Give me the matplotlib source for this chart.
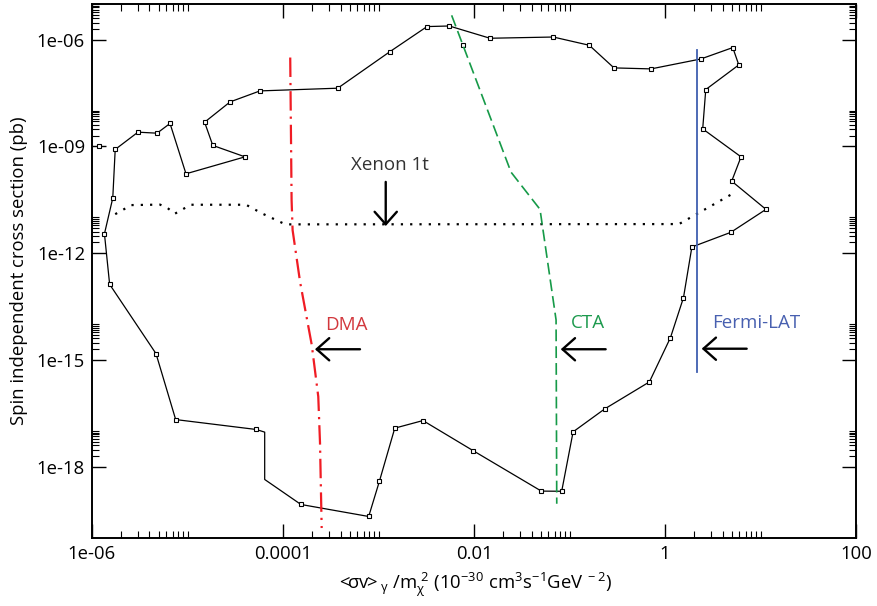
import numpy as np
import matplotlib
matplotlib.use('Agg')
import matplotlib.pyplot as plt
from matplotlib.ticker import FixedLocator, NullFormatter

plt.rcParams['font.family'] = ['Open Sans', 'DejaVu Sans']
plt.rcParams['mathtext.fontset'] = 'custom'
plt.rcParams['mathtext.rm'] = 'Open Sans'
plt.rcParams['mathtext.it'] = 'Open Sans:italic'
plt.rcParams['lines.scale_dashes'] = False

# closed contour (black), marker flag per vertex
contour_x = [1.75e-6, 3.03e-6, 4.80e-6, 6.56e-6, 9.64e-6, 4.00e-5, 1.84e-5, 1.51e-5,
             2.79e-5, 5.74e-5, 3.74e-4, 1.32e-3, 3.22e-3, 5.51e-3, 1.47e-2, 6.76e-2,
             0.161, 0.292, 0.713, 2.37, 5.12, 5.92, 2.67, 2.48,
             6.25, 4.99, 11.4, 4.88, 1.91, 1.56, 1.14, 0.686,
             0.234, 0.109, 8.28e-2, 5.07e-2, 9.84e-3, 2.92e-3, 1.48e-3, 1.02e-3,
             7.89e-4, 1.54e-4, 6.43e-5, 6.43e-5, 5.25e-5, 7.52e-6, 4.68e-6, 1.53e-6,
             1.35e-6, 1.65e-6, 1.75e-6]
contour_y = [8.17e-10, 2.50e-9, 2.34e-9, 4.39e-9, 1.69e-10, 5.06e-10, 1.06e-9, 4.76e-9,
             1.77e-8, 3.61e-8, 4.30e-8, 4.60e-7, 2.32e-6, 2.41e-6, 1.09e-6, 1.18e-6,
             6.92e-7, 1.60e-7, 1.50e-7, 2.85e-7, 5.96e-7, 1.94e-7, 3.94e-8, 3.09e-9,
             5.06e-10, 1.05e-10, 1.69e-11, 3.82e-12, 1.48e-12, 5.57e-14, 4.20e-15, 2.39e-16,
             4.18e-17, 9.44e-18, 2.02e-19, 2.04e-19, 2.77e-18, 1.96e-17, 1.20e-17, 3.80e-19,
             3.95e-20, 8.59e-20, 4.33e-19, 9.27e-18, 1.10e-17, 2.09e-17, 1.49e-15, 1.32e-13,
             3.48e-12, 3.51e-11, 8.17e-10]
has_marker = [1] * 42 + [0, 0] + [1] * 6 + [0]

extra_x = [1.17e-6, 7.59e-3]
extra_y = [1.01e-9, 7.24e-7]

xenon_x = [1.75e-6, 2.58e-6, 5.15e-6, 6.14e-6, 7.35e-6, 1.08e-5, 4.10e-5, 6.03e-5, 1.06e-4, 1.40, 5.53]
xenon_y = [1.24e-11, 2.23e-11, 2.30e-11, 1.87e-11, 1.27e-11, 2.28e-11, 2.28e-11, 1.30e-11, 6.40e-12, 6.53e-12, 5.27e-11]

dma_x = [1.19e-4, 1.23e-4, 1.26e-4, 1.51e-4, 2.00e-4, 2.34e-4, 2.44e-4, 2.54e-4]
dma_y = [3.13e-7, 3.08e-11, 4.43e-12, 1.53e-13, 2.62e-15, 9.25e-17, 4.65e-18, 1.87e-20]

cta_x = [5.83e-3, 2.44e-2, 4.91e-2, 7.23e-2, 7.35e-2]
cta_y = [4.81e-6, 1.88e-10, 1.69e-11, 1.32e-14, 9.00e-20]

fermi_x = [2.15, 2.15]
fermi_y = [5.24e-7, 4.48e-16]

# labels: text, text position, arrow tail, arrow tip, colour
labels = [
    ('Xenon 1t', (1.32e-3, 2.96e-10), (1.19e-3, 1.00e-10), (1.19e-3, 5.74e-12), '#333333'),
    ('DMA', (4.65e-4, 9.5e-15), (6.40e-4, 1.98e-15), (2.16e-4, 1.98e-15), '#d2373c'),
    ('CTA', (0.157, 1.06e-14), (0.239, 1.98e-15), (8.09e-2, 1.98e-15), '#1d9a4e'),
    ('Fermi-LAT', (9.12, 1.1e-14), (7.16, 2.05e-15), (2.42, 2.05e-15), '#4860b0'),
]

x_major = [1e-6, 1e-4, 1e-2, 1, 100]
x_major_labels = ['1e-06', '0.0001', '0.01', '1', '100']
y_major = [1e-6, 1e-9, 1e-12, 1e-15, 1e-18]
y_major_labels = ['1e-06', '1e-09', '1e-12', '1e-15', '1e-18']

fig = plt.figure(figsize=(8.77, 6.06), dpi=100)
ax = fig.add_axes([0.1049, 0.1127, 0.8712, 0.8807])

cx = np.array(contour_x)
cy = np.array(contour_y)
m = np.array(has_marker, dtype=bool)
ax.plot(cx, cy, color='black', lw=0.9)
ax.plot(cx[m], cy[m], ls='none', marker='s', ms=3.4, mfc='white', mec='black', mew=0.8)
ax.plot(extra_x, extra_y, ls='none', marker='s', ms=3.4, mfc='white', mec='black', mew=0.8)

ax.plot(xenon_x, xenon_y, color='black', lw=1.6, dashes=(1.6, 5.1))
ax.plot(dma_x, dma_y, color='#f01c24', lw=1.6, dashes=(14, 4.3, 1.6, 4.3))
ax.plot(cta_x, cta_y, color='#169a48', lw=1.2, dashes=(8.5, 3.6))
ax.plot(fermi_x, fermi_y, color='#3f5fb0', lw=1.3)

for text, tpos, tail, tip, col in labels:
    ax.text(tpos[0], tpos[1], text, color=col, fontsize=13.5, ha='center', va='center')
    ax.annotate('', xy=tip, xytext=tail,
                arrowprops=dict(arrowstyle='->,head_length=0.45,head_width=0.4',
                                lw=1.7, color='black', shrinkA=0, shrinkB=0,
                                mutation_scale=20))

ax.set_xscale('log')
ax.set_yscale('log')
ax.set_xlim(1e-6, 100)
ax.set_ylim(1e-20, 1e-5)

ax.xaxis.set_major_locator(FixedLocator(x_major))
ax.set_xticklabels(x_major_labels)
ax.yaxis.set_major_locator(FixedLocator(y_major))
ax.set_yticklabels(y_major_labels)
x_minor = [k * b for b in [1e-6, 1e-4, 1e-2, 1] for k in range(2, 11)]
y_minor = [k * b for b in [1e-6, 1e-9, 1e-12, 1e-15, 1e-18] for k in range(2, 11)]
ax.xaxis.set_minor_locator(FixedLocator(x_minor))
ax.yaxis.set_minor_locator(FixedLocator(y_minor))
ax.xaxis.set_minor_formatter(NullFormatter())
ax.yaxis.set_minor_formatter(NullFormatter())

ax.tick_params(which='both', direction='in', top=True, right=True, labelsize=13.3, color='black')
ax.tick_params(which='major', length=10, width=1.0, pad=5)
ax.tick_params(which='minor', length=5, width=0.8)
for s in ax.spines.values():
    s.set_linewidth(1.4)

ax.set_ylabel('Spin independent cross section (pb)', fontsize=13.3, labelpad=6)
ax.set_xlabel(r'$\mathregular{<\!\!σv\!\!>_{γ}\ /m_{χ}^{\ 2}\ (10^{-30}\ cm^{3}s^{-1}GeV^{\ -2})}$',
              fontsize=13.3, labelpad=6)

fig.savefig('out.png', dpi=100)
